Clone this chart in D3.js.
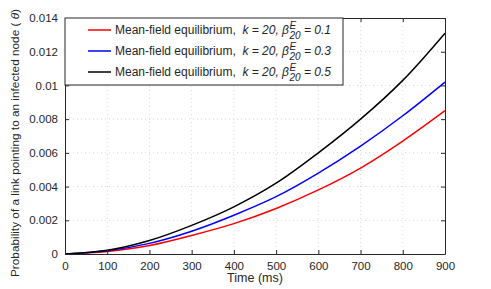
<!DOCTYPE html>
<html>
  <head>
    <meta charset="utf-8">
    <title>Mean-field equilibrium</title>
    <script type="text/javascript" src="https://d3js.org/d3.v7.min.js"></script>
    <style>
      body { margin: 0; background: #fff; }
      text { font-family: "Liberation Sans", Arial, sans-serif; fill: #262626; white-space: pre; }
    </style>
  </head>
  <body>
    <script type="text/javascript">

      // time in ms
      var times = [0, 100, 200, 300, 400, 500, 600, 700, 800, 900];
      // probability curves
      var beta01 = [0, 0.00015, 0.0005, 0.0011, 0.0018, 0.0027, 0.0038, 0.0051, 0.0067, 0.0085];
      var beta03 = [0, 0.00019, 0.00063, 0.00135, 0.0023, 0.0034, 0.0048, 0.0064, 0.0082, 0.0102];
      var beta05 = [0, 0.00022, 0.0008, 0.0017, 0.0028, 0.0042, 0.0060, 0.0080, 0.0103, 0.0131];
      var betaLabels = ["0.1", "0.3", "0.5"];
      var colors = ["#ff0000", "#0000ff", "#000000"];
      var xTicks = [0, 100, 200, 300, 400, 500, 600, 700, 800, 900];
      var yTicks = [0, 0.002, 0.004, 0.006, 0.008, 0.01, 0.012, 0.014];
      var yTickLabels = ["0", "0.002", "0.004", "0.006", "0.008", "0.01", "0.012", "0.014"];

      var w = 491, h = 289;
      var margin = {left: 65, top: 18, right: 46, bottom: 35};
      var width = w - margin.left - margin.right;
      var height = h - margin.top - margin.bottom;

      var svg = d3.select("body").append("svg")
          .attr("width", w)
          .attr("height", h);

      var g = svg.append("g")
          .attr("transform", "translate(" + margin.left + "," + margin.top + ")");

      var x = d3.scaleLinear().domain([0, 900]).range([0, width]);
      var y = d3.scaleLinear().domain([0, 0.014]).range([height, 0]);

      // grid
      g.selectAll(".vgrid").data(xTicks.slice(1, -1)).enter().append("line")
          .attr("x1", d => x(d)).attr("x2", d => x(d))
          .attr("y1", 0).attr("y2", height)
          .attr("stroke", "#d9d9d9").attr("stroke-dasharray", "1,3");
      g.selectAll(".hgrid").data(yTicks.slice(1, -1)).enter().append("line")
          .attr("y1", d => y(d)).attr("y2", d => y(d))
          .attr("x1", 0).attr("x2", width)
          .attr("stroke", "#d9d9d9").attr("stroke-dasharray", "1,3");

      // curves
      var series = [beta01, beta03, beta05];
      var line = d3.line()
          .x((d, i) => x(times[i]))
          .y(d => y(d))
          .curve(d3.curveCatmullRom.alpha(0.5));
      series.forEach(function(s, i) {
        g.append("path")
            .datum(s)
            .attr("fill", "none")
            .attr("stroke", colors[i])
            .attr("stroke-width", 1.5)
            .attr("d", line);
      });

      // axes (ticks pointing inward)
      var xAxis = d3.axisBottom(x).tickValues(xTicks).tickSize(-4).tickPadding(8).tickSizeOuter(0);
      var yAxis = d3.axisLeft(y).tickValues(yTicks).tickSize(-4).tickPadding(7).tickSizeOuter(0)
          .tickFormat((d, i) => yTickLabels[i]);

      g.append("g").attr("transform", "translate(0," + height + ")").call(xAxis);
      g.append("g").call(yAxis);
      g.append("g").call(d3.axisTop(x).tickValues(xTicks).tickSize(-4).tickFormat("").tickSizeOuter(0));
      g.append("g").attr("transform", "translate(" + width + ",0)")
          .call(d3.axisRight(y).tickValues(yTicks).tickSize(-4).tickFormat("").tickSizeOuter(0));

      g.selectAll(".domain").attr("stroke", "#262626");
      g.selectAll(".tick line").attr("stroke", "#262626");
      g.selectAll(".tick text").style("font-size", "11.5px").attr("fill", "#333");

      // axis labels
      svg.append("text")
          .attr("x", margin.left + width / 2)
          .attr("y", 282)
          .attr("text-anchor", "middle")
          .style("font-size", "12.5px")
          .text("Time (ms)");

      var ylab = svg.append("text")
          .attr("transform", "translate(19,143) rotate(-90)")
          .attr("text-anchor", "middle")
          .style("font-size", "11.8px");
      ylab.append("tspan").text("Probability of a link pointing to an infected node ( ");
      ylab.append("tspan").style("font-style", "italic").text("\u03b8");
      ylab.append("tspan").text(")");

      // legend
      var legend = g.append("g");
      legend.append("rect")
          .attr("x", 0).attr("y", 0)
          .attr("width", 278).attr("height", 67)
          .attr("fill", "#fff").attr("stroke", "#262626");

      betaLabels.forEach(function(b, i) {
        var ly = 12 + i * 21;
        legend.append("line")
            .attr("x1", 23).attr("x2", 46)
            .attr("y1", ly).attr("y2", ly)
            .attr("stroke", colors[i]).attr("stroke-width", 1.5);
        var t = legend.append("text")
            .attr("x", 50).attr("y", ly + 4)
            .style("font-size", "12px");
        t.append("tspan").text("Mean-field equilibrium,  ");
        t.append("tspan").style("font-style", "italic").text("k = 20, \u03b2");
        var x0 = 50 + t.node().getComputedTextLength() + 0.5;
        legend.append("text")
            .attr("x", x0).attr("y", ly - 1)
            .style("font-size", "10px").style("font-style", "italic")
            .text("E");
        var sub = legend.append("text")
            .attr("x", x0).attr("y", ly + 9)
            .style("font-size", "10px").style("font-style", "italic")
            .text("20");
        var x1 = x0 + sub.node().getComputedTextLength();
        legend.append("text")
            .attr("x", x1).attr("y", ly + 4)
            .style("font-size", "12px").style("font-style", "italic")
            .text(" = " + b);
      });

    </script>
  </body>
</html>
